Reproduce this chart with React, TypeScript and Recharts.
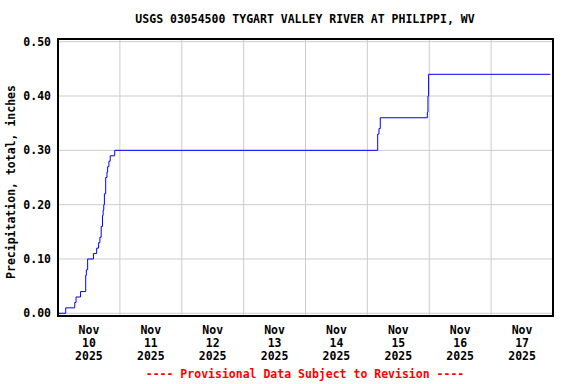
import React from 'react';
import { LineChart, Line, XAxis, YAxis, CartesianGrid, ReferenceArea } from 'recharts';

// gauge readings, Nov 2025 (UTC-ish, "MM-DD HH:mm")
const times = [
  '11-10 00:00', '11-10 03:00', '11-10 06:30', '11-10 07:00', '11-10 08:45',
  '11-10 10:45', '11-10 11:00', '11-10 11:30', '11-10 13:45', '11-10 15:00',
  '11-10 15:45', '11-10 16:15', '11-10 16:45', '11-10 17:15', '11-10 17:30',
  '11-10 17:45', '11-10 18:00', '11-10 18:30', '11-10 19:00', '11-10 19:15',
  '11-10 19:45', '11-10 20:15', '11-10 22:00', '11-15 04:00', '11-15 04:30',
  '11-15 05:00', '11-15 23:15', '11-15 23:30', '11-15 23:45', '11-17 23:00',
];
const precip = [
  0.0, 0.01, 0.02, 0.03, 0.04,
  0.07, 0.08, 0.1, 0.11, 0.12,
  0.13, 0.14, 0.16, 0.18, 0.19,
  0.2, 0.22, 0.25, 0.26, 0.27,
  0.28, 0.29, 0.3, 0.33, 0.34,
  0.36, 0.37, 0.4, 0.44, 0.44,
];
const labelTimes = [
  '11-10 12:00', '11-11 12:00', '11-12 12:00', '11-13 12:00',
  '11-14 12:00', '11-15 12:00', '11-16 12:00', '11-17 12:00',
];
const midnights = [
  '11-11 00:00', '11-12 00:00', '11-13 00:00', '11-14 00:00',
  '11-15 00:00', '11-16 00:00', '11-17 00:00',
];
const yTicks = [0, 0.1, 0.2, 0.3, 0.4, 0.5];

const toTs = (s: string) => {
  const [md, hm] = s.split(' ');
  const [mo, d] = md.split('-').map(Number);
  const [h, m] = hm.split(':').map(Number);
  return Date.UTC(2025, mo - 1, d, h, m);
};

const X_MIN = toTs('11-10 00:00');
const X_MAX = toTs('11-18 00:00');
const Y_MIN = -0.005;
const Y_MAX = 0.505;

const data = times.map((t, i) => ({ t: toTs(t), v: precip[i] }));

const FONT = '"DejaVu Sans Mono", monospace';
const FS = 11.5;

const DateTick = (props: any) => {
  const { x, y, payload } = props;
  const d = new Date(payload.value);
  return (
    <text x={x} y={y} textAnchor="middle" fontFamily={FONT} fontSize={FS} fontWeight="bold" fill="#000">
      <tspan x={x} dy={18}>Nov</tspan>
      <tspan x={x} dy={13}>{d.getUTCDate()}</tspan>
      <tspan x={x} dy={13}>{d.getUTCFullYear()}</tspan>
    </text>
  );
};

const textStyle: React.CSSProperties = {
  position: 'absolute',
  fontFamily: FONT,
  fontSize: FS,
  fontWeight: 'bold',
  whiteSpace: 'nowrap',
  lineHeight: 1,
};

export default function App() {
  return (
    <div style={{ position: 'absolute', left: 0, top: 0, width: 576, height: 384, background: '#fff' }}>
      <div style={{ ...textStyle, left: 305, top: 20, transform: 'translate(-50%, -50%)' }}>
        USGS 03054500 TYGART VALLEY RIVER AT PHILIPPI, WV
      </div>
      <div style={{ ...textStyle, left: 12, top: 182, transform: 'translate(-50%, -50%) rotate(-90deg)' }}>
        Precipitation, total, inches
      </div>
      <div style={{ ...textStyle, left: 305, top: 375, color: '#ff0000', transform: 'translate(-50%, -50%)' }}>
        ---- Provisional Data Subject to Revision ----
      </div>
      <LineChart width={576} height={384} data={data} margin={{ top: 39, right: 23, bottom: 0, left: 0 }}>
        <CartesianGrid
          stroke="#cccccc"
          verticalCoordinatesGenerator={({ offset }: any) =>
            midnights.map((m) => offset.left + ((toTs(m) - X_MIN) / (X_MAX - X_MIN)) * offset.width)
          }
        />
        <XAxis
          dataKey="t"
          type="number"
          domain={[X_MIN, X_MAX]}
          ticks={labelTimes.map(toTs)}
          allowDataOverflow
          height={68}
          axisLine={false}
          tickLine={false}
          tickSize={0}
          tickMargin={0}
          tick={<DateTick />}
          interval={0}
        />
        <YAxis
          type="number"
          domain={[Y_MIN, Y_MAX]}
          ticks={yTicks}
          allowDataOverflow
          width={58}
          axisLine={false}
          tickLine={false}
          tickSize={0}
          tickMargin={7}
          tickFormatter={(v: number) => v.toFixed(2)}
          tick={{ fontFamily: FONT, fontSize: FS, fontWeight: 'bold', fill: '#000' }}
        />
        <Line
          type="stepAfter"
          dataKey="v"
          stroke="#0000ff"
          strokeWidth={1}
          dot={false}
          activeDot={false}
          isAnimationActive={false}
        />
        <ReferenceArea
          x1={X_MIN}
          x2={X_MAX}
          y1={Y_MIN}
          y2={Y_MAX}
          fill="none"
          fillOpacity={0}
          stroke="#000"
          strokeWidth={2}
          ifOverflow="visible"
        />
      </LineChart>
    </div>
  );
}
